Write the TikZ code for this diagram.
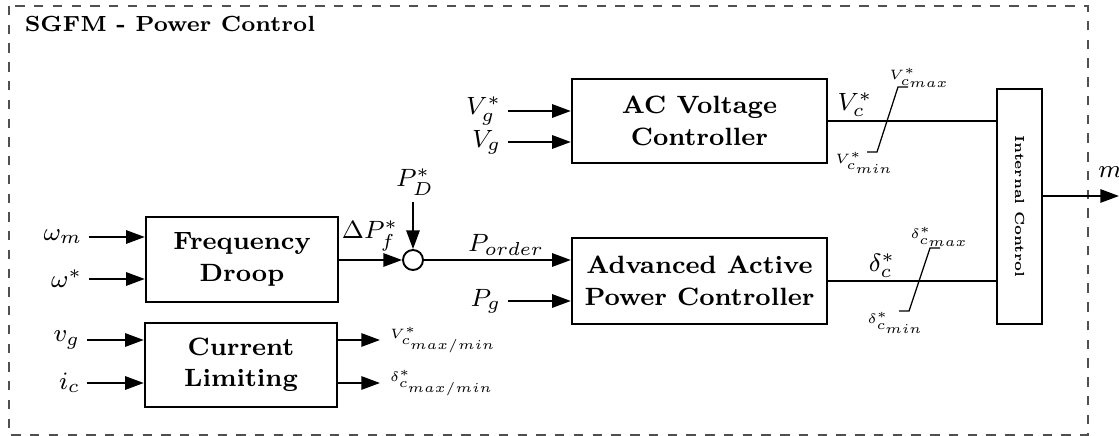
\documentclass[tikz,border=0pt]{standalone}
\usepackage{fix-cm}
\usepackage{amsmath,amssymb}
\usepackage{xcolor}
\usepackage{tikz}
\usetikzlibrary{arrows.meta}
\definecolor{framegray}{HTML}{505050}
\DeclareMathSizes{4.35}{4.35}{4.35}{4.35}

\begin{document}
\begin{tikzpicture}[
  x=0.01124cm, y=-0.01124cm,
  box/.style={draw, thick, inner sep=0pt, align=center, font=\fontsize{8}{10}\selectfont\bfseries},
  lab/.style={inner sep=2pt, font=\footnotesize},
  smalllab/.style={inner sep=0.5pt, font=\fontsize{4.35}{5}\selectfont},
  sumc/.style={circle, draw, semithick, fill=white, minimum size=0.225cm, inner sep=0pt},
  arr/.style={-{Triangle[length=2.1mm, width=1.5mm]}, semithick},
  ln/.style={semithick},
  lim/.style={thin},
  frame/.style={draw=framegray, thin, dashed}
]
  \useasboundingbox (0,0) rectangle (1119,436);
  \draw[frame] (9,6) rectangle (1088,435);
  \node[anchor=west, inner sep=1pt, font=\scriptsize\bfseries] (title) at (21,24) {SGFM - Power Control};

  \node[box, minimum width=2.158cm, minimum height=0.955cm] (fd) at (242,259.5) {Frequency\\Droop};
  \node[box, minimum width=2.158cm, minimum height=0.944cm] (cl) at (241,365) {Current\\Limiting};
  \node[box, minimum width=2.866cm, minimum height=0.944cm] (acv) at (699.5,121) {AC Voltage\\Controller};
  \node[box, minimum width=2.866cm, minimum height=0.967cm] (apc) at (699.5,281) {Advanced Active\\Power Controller};
  \node[box, minimum width=0.506cm, minimum height=2.641cm] (intc) at (1019.5,206.5) {};
  \node[rotate=-90, inner sep=0pt, font=\fontsize{4.2}{5}\selectfont\bfseries] (intctext) at (intc.center) {Internal Control};
  \node[sumc] (sum) at (413,260) {};

  \node[lab, anchor=east] (wm) at (89,237) {$\omega_m$};
  \node[lab, anchor=east] (wref) at (89,279) {$\omega^*$};
  \node[lab, anchor=east] (vg) at (87,340) {$v_g$};
  \node[lab, anchor=east] (icin) at (87,383) {$i_c$};
  \node[lab, anchor=east] (vgref) at (508,111) {$V_g^*$};
  \node[lab, anchor=east] (vgmeas) at (508,142) {$V_g$};
  \node[lab, anchor=east] (pg) at (508,301) {$P_g$};
  \node[lab] (pd) at (415,182) {$P_D^*$};
  \node[lab] (dpf) at (370,236) {$\Delta P_f^*$};
  \node[lab] (pord) at (506,245) {$P_{order}$};
  \node[lab] (vcs) at (855,105) {$V_c^*$};
  \node[lab] (dcs) at (882,266) {$\delta_c^*$};
  \node[smalllab] (vcmax) at (920,78) {$V_{c_{max}}^*$};
  \node[smalllab] (vcmin) at (865,163) {$V_{c_{min}}^*$};
  \node[smalllab] (dcmax) at (940,237) {$\delta_{c_{max}}^*$};
  \node[smalllab] (dcmin) at (896,323) {$\delta_{c_{min}}^*$};
  \node[smalllab, anchor=west, inner sep=3pt] (vlim) at (380,340) {$V_{c_{max/min}}^*$};
  \node[smalllab, anchor=west, inner sep=3pt] (dlim) at (380,383) {$\delta_{c_{max/min}}^*$};
  \coordinate (mout) at (1119,196);
  \node[lab] (mlab) at (1110,172) {$m$};

  \draw[arr] (wm) -- (wm -| fd.west);
  \draw[arr] (wref) -- (wref -| fd.west);
  \draw[arr] (vg) -- (vg -| cl.west);
  \draw[arr] (icin) -- (icin -| cl.west);
  \draw[arr] (cl.east |- vg) -- (vlim);
  \draw[arr] (cl.east |- icin) -- (dlim);
  \draw[arr] (fd.east |- sum) -- (sum);
  \draw[arr] (pd.south -| sum) -- (sum);
  \draw[arr] (sum) -- (sum -| apc.west);
  \draw[arr] (pg) -- (pg -| apc.west);
  \draw[arr] (vgref) -- (vgref -| acv.west);
  \draw[arr] (vgmeas) -- (vgmeas -| acv.west);
  \draw[ln] (acv.east) -- (acv.east -| intc.west);
  \draw[ln] (apc.east) -- (apc.east -| intc.west);
  \draw[arr] (intc.east |- mout) -- (mout);

  \draw[lim] (867,152) -- (877,152) -- (898,87) -- (908,87);
  \draw[lim] (899,311) -- (909,311) -- (930,248) -- (940,248);
\end{tikzpicture}
\end{document}
